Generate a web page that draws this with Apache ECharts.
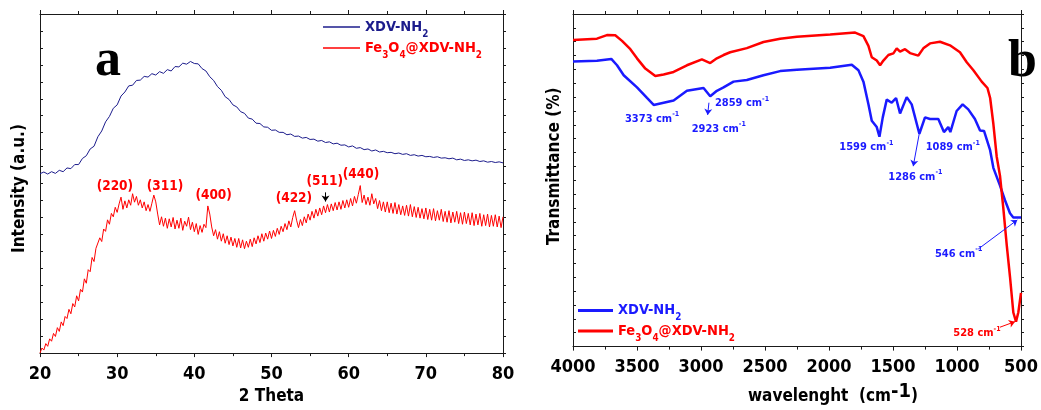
<!DOCTYPE html>
<html>
<head>
<meta charset="utf-8">
<script src="https://cdn.jsdelivr.net/npm/echarts@6/dist/echarts.min.js"></script>
<style>
  html, body { margin: 0; padding: 0; background: #fff; }
  #chart { width: 1041px; height: 410px; }
</style>
</head>
<body>
<div id="chart"></div>
<script>
// XRD (panel a), [2theta, intensity a.u.]
const xdvXrd = [
  [20,52.9],[20.5,53.4],[21,52.8],[21.5,53.5],[22,53.0],[22.5,53.9],[23,53.5],[23.5,54.6],[24,54.4],[24.5,55.6],
  [25,55.6],[25.5,57.4],[26,58.2],[26.5,60.2],[27,61.0],[27.5,63.8],[28,65.5],[28.5,68.2],[29,69.8],[29.5,72.2],
  [30,73.2],[30.5,75.8],[31,77.0],[31.5,78.8],[32,79.0],[32.5,80.4],[33,80.5],[33.5,81.6],[34,81.4],[34.5,82.4],
  [35,82.0],[35.5,83.0],[36,82.5],[36.5,83.6],[37,83.2],[37.5,84.5],[38,84.4],[38.5,85.5],[39,85.2],[39.5,86.0],
  [40,85.4],[40.5,85.3],[41,83.9],[41.5,83.2],[42,81.5],[42.5,80.4],[43,78.6],[43.5,77.5],[44,75.6],[44.5,74.8],
  [45,73.2],[45.5,72.6],[46,71.2],[46.5,70.7],[47,69.3],[47.5,69.0],[48,67.8],[48.5,67.7],[49,66.7],[49.5,66.6],
  [50,65.7],[50.5,65.8],[51,65.1],[51.5,65.1],[52,64.4],[52.5,64.6],[53,63.9],[53.5,64.0],[54,63.4],[54.5,63.6],
  [55,63.0],[55.5,63.1],[56,62.5],[56.5,62.7],[57,62.1],[57.5,62.3],[58,61.7],[58.5,61.9],[59,61.3],[59.5,61.4],
  [60,60.8],[60.5,61.1],[61,60.4],[61.5,60.6],[62,60.0],[62.5,60.2],[63,59.6],[63.5,59.9],[64,59.3],[64.5,59.5],
  [65,59.1],[65.5,59.2],[66,58.8],[66.5,59.0],[67,58.6],[67.5,58.8],[68,58.3],[68.5,58.5],[69,58.1],[69.5,58.3],
  [70,57.9],[70.5,58.0],[71,57.7],[71.5,57.9],[72,57.5],[72.5,57.6],[73,57.3],[73.5,57.5],[74,57.0],[74.5,57.2],
  [75,56.8],[75.5,57.0],[76,56.7],[76.5,56.9],[77,56.5],[77.5,56.7],[78,56.3],[78.5,56.5],[79,56.2],[79.5,56.4],
  [80,56.1]
];
// Fe3O4@XDV-NH2, one reading every 0.25 degree from 20 to 80
const fe3o4Start = 20, fe3o4Step = 0.25;
const fe3o4Xrd = [
  0.0,1.5,0.9,2.8,2.0,4.2,3.5,5.8,4.9,7.5,6.4,9.2,8.1,10.8,10.2,12.9,11.6,14.6,13.6,16.9,
  15.4,18.8,18.0,21.9,20.6,24.6,24.0,28.2,27.0,30.9,30.4,34.0,32.9,36.6,35.9,39.3,38.0,41.2,40.2,43.0,
  41.5,44.0,46.0,42.4,44.9,42.8,45.2,43.6,47.0,44.5,46.2,43.6,45.2,42.8,44.6,42.0,43.8,41.8,44.2,46.6,
  44.6,41.0,37.8,40.2,37.4,39.8,36.8,39.6,37.2,40.0,36.6,39.2,36.8,39.8,36.2,38.9,37.4,40.1,36.4,38.6,
  35.8,38.2,35.0,37.6,35.6,38.0,37.0,43.4,41.0,37.2,34.6,36.4,33.6,35.8,33.0,35.2,32.4,34.6,32.0,34.2,
  31.6,33.8,31.2,33.8,31.0,33.4,30.8,33.0,31.2,33.6,31.4,34.0,32.2,34.6,32.6,35.2,33.0,35.4,33.6,36.0,
  33.8,36.2,34.4,36.8,35.0,37.4,35.8,38.2,36.4,39.0,37.2,40.0,42.0,39.2,37.0,39.4,37.6,40.2,38.4,41.0,
  39.2,41.8,39.8,42.4,40.4,42.8,40.8,43.4,41.4,43.8,41.6,44.0,42.0,44.4,42.2,44.6,42.4,45.0,42.8,45.2,
  43.0,45.6,43.4,46.2,44.2,46.8,49.4,44.4,46.6,43.8,46.0,43.6,47.0,44.0,45.6,42.6,45.0,42.0,44.6,41.6,
  44.6,41.4,44.2,41.2,44.4,41.0,43.8,40.8,43.4,40.6,43.6,40.4,43.8,40.2,43.2,40.0,43.0,39.8,42.6,39.6,
  42.8,39.4,42.4,39.2,42.6,39.0,42.0,39.2,42.4,38.8,41.8,38.6,42.0,38.4,41.6,38.6,41.8,38.2,41.4,38.0,
  41.6,38.2,41.2,37.8,41.4,37.6,41.0,37.8,41.2,37.4,40.8,37.6,41.0,37.2,40.6,37.4,40.8,37.2,40.4,37.0,
  40.2
];

// FTIR (panel b), [wavenumber, transmittance a.u.]
const xdvIr = [
  [4000,102.9],[3813,103.1],[3701,103.8],[3656,101.5],[3604,97.9],[3500,93.5],[3422,89.7],[3370,87.2],[3292,88.0],
  [3214,88.8],[3110,92.3],[2980,93.3],[2928,90.3],[2876,92.3],[2824,93.5],[2746,95.6],[2642,96.2],[2512,97.9],
  [2382,99.4],[2251,99.9],[1991,100.6],[1822,101.7],[1770,99.7],[1731,95.6],[1692,87.4],[1666,81.5],[1627,79.2],
  [1606,75.7],[1580,82.7],[1549,89.1],[1510,88.0],[1476,89.7],[1445,84.1],[1393,90.0],[1354,87.4],[1294,76.8],
  [1250,82.7],[1211,82.1],[1146,82.1],[1102,77.4],[1068,79.2],[1052,77.4],[1003,85.0],[956,87.4],[912,85.6],
  [860,82.1],[820,78.0],[789,77.8],[742,71.0],[716,64.5],[664,58.1],[625,52.8],[586,48.1],[560,46.6],[500,46.6]
];
const fe3o4Ir = [
  [4000,110.6],[3813,111.1],[3735,112.4],[3670,112.3],[3617,110.3],[3552,107.3],[3500,104.0],[3435,100.3],
  [3357,97.6],[3292,98.2],[3214,99.1],[3110,101.5],[2993,103.6],[2928,102.3],[2876,104.0],[2824,105.2],
  [2772,106.2],[2642,107.7],[2512,109.9],[2382,111.1],[2251,111.8],[1991,112.6],[1796,113.3],[1731,112.0],
  [1692,108.5],[1666,104.4],[1627,103.2],[1601,101.5],[1575,103.2],[1536,105.2],[1497,105.8],[1471,107.6],
  [1445,106.4],[1406,107.3],[1367,105.9],[1302,105.0],[1263,107.6],[1211,109.4],[1133,110.0],[1055,108.7],
  [977,106.2],[924,102.6],[872,99.7],[807,95.6],[762,93.3],[741,89.7],[716,80.4],[690,68.6],[664,61.6],
  [638,49.9],[612,36.9],[586,25.2],[560,12.3],[539,9.0],[521,12.3],[500,19.4]
];

// annotations, in data units
const xrdPeakLabels = [['(220)',29.7,49.1],['(311)',36.2,49.1],['(400)',42.5,46.5],['(422)',52.9,45.6],['(511)',56.9,50.6],['(440)',61.6,52.6]];
const irBlueLabels = [['3373',3594,82.1],['2923',3073,78.6],['2859',2891,87.7],['1599',1920,71.8],['1089',1245,71.8],['1286',1537,61.2],['546',1172,33.4]];
const irRedLabels = [['528',1029,4.7]];
const irBlueArrows = [[[2938,88.0],[2948,83.6]],[[1295,76.8],[1342,65.1]],[[834,35.2],[529,45.7]]];
const irRedArrows = [[[664,7.0],[547,9.0]]];
const xrdArrows = [[[57,47.4],[57,44.7]]];

const FONT = "'DejaVu Sans Condensed', 'DejaVu Sans', sans-serif";
const NAVY = '#1c1c8c', RED = '#ff0000', BLUE = '#1a1aff', INK = '#1a1a1a';

function subRich(color, size) {
  return {
    n: { color: color, fontSize: size, fontWeight: 'bold', fontFamily: FONT, lineHeight: 24 },
    s: { color: color, fontSize: size * 0.68, fontWeight: 'bold', fontFamily: FONT, lineHeight: 6, verticalAlign: 'bottom' }
  };
}
const legendNames = {
  xrd1: '{a|XDV-NH}{as|2}', xrd2: '{b|Fe}{bs|3}{b|O}{bs|4}{b|@XDV-NH}{bs|2}',
  ir1: '{c|XDV-NH}{cs|2}', ir2: '{b|Fe}{bs|3}{b|O}{bs|4}{b|@XDV-NH}{bs|2}'
};
const r1 = subRich(NAVY, 14.5), r2 = subRich(RED, 14.5), r3 = subRich(BLUE, 14.5);
const legendRich = { a: r1.n, as: r1.s, b: r2.n, bs: r2.s, c: r3.n, cs: r3.s };

function xAx(grid, min, max, interval, pos, labels, extra) {
  return Object.assign({
    type: 'value', gridIndex: grid, min: min, max: max, interval: interval, position: pos,
    axisLine: { show: true, onZero: false, lineStyle: { color: INK, width: 1 } },
    axisTick: { show: true, inside: false, length: 4, lineStyle: { color: INK } },
    minorTick: { show: true, splitNumber: 2, length: 3, lineStyle: { color: INK } },
    splitLine: { show: false },
    axisLabel: { show: labels, color: '#000', fontSize: 18, fontWeight: 'bold', fontFamily: FONT, margin: 12, formatter: v => String(v) }
  }, extra || {});
}
function yAx(grid, max, pos, inside, extra) {
  return Object.assign({
    type: 'value', gridIndex: grid, min: 0, max: max, interval: 5, position: pos,
    axisLine: { show: true, onZero: false, lineStyle: { color: INK, width: 1 } },
    axisTick: { show: true, inside: inside, length: 3, lineStyle: { color: INK } },
    splitLine: { show: false },
    axisLabel: { show: false }
  }, extra || {});
}

const chart = echarts.init(document.getElementById('chart'));
chart.setOption({
  animation: false,
  backgroundColor: '#fff',
  grid: [
    { left: 40, top: 14, width: 463, height: 342 },
    { left: 573, top: 14, width: 448, height: 341 }
  ],
  xAxis: [
    xAx(0, 20, 80, 10, 'bottom', true, {
      name: '2 Theta', nameLocation: 'middle', nameGap: 33,
      nameTextStyle: { color: '#000', fontSize: 17, fontWeight: 'bold', fontFamily: FONT }
    }),
    xAx(0, 20, 80, 10, 'top', false),
    xAx(1, 500, 4000, 500, 'bottom', true, {
      inverse: true, name: '{a|wavelenght  (cm}{p|-1}{a|)}', nameLocation: 'middle', nameGap: 30,
      nameTextStyle: {
        padding: [0, 0, 0, 72],
        rich: {
          a: { color: '#000', fontSize: 17, fontWeight: 'bold', fontFamily: FONT, lineHeight: 30 },
          p: { color: '#000', fontSize: 20, fontWeight: 'bold', fontFamily: FONT, lineHeight: 8, verticalAlign: 'top' }
        }
      }
    }),
    xAx(1, 500, 4000, 500, 'top', false, { inverse: true })
  ],
  yAxis: [
    yAx(0, 100, 'left', true, {
      name: 'Intensity (a.u.)', nameLocation: 'middle', nameGap: 12, nameRotate: 90,
      nameTextStyle: { color: '#000', fontSize: 17, fontWeight: 'bold', fontFamily: FONT, verticalAlign: 'bottom', padding: [0, 10, 0, 0] }
    }),
    yAx(0, 100, 'right', false),
    yAx(1, 120, 'left', true, {
      name: 'Transmittance (%)', nameLocation: 'middle', nameGap: 10, nameRotate: 90,
      nameTextStyle: { color: '#000', fontSize: 17, fontWeight: 'bold', fontFamily: FONT, verticalAlign: 'bottom', padding: [0, 0, 0, 28] }
    }),
    yAx(1, 120, 'right', false)
  ],
  legend: [
    {
      data: ['xrd1', 'xrd2'], orient: 'vertical', left: 323, top: 19.5, padding: 0, itemGap: 1.5,
      icon: 'rect', itemWidth: 37, itemHeight: 1.4,
      formatter: n => legendNames[n], textStyle: { rich: legendRich }
    },
    {
      data: ['ir1', 'ir2'], orient: 'vertical', left: 578, top: 303, padding: 0, itemGap: 1,
      icon: 'rect', itemWidth: 35, itemHeight: 3,
      formatter: n => legendNames[n], textStyle: { rich: legendRich }
    }
  ],
  series: [
    {
      name: 'xrd1', type: 'line', xAxisIndex: 0, yAxisIndex: 0, data: xdvXrd, showSymbol: false, symbol: 'none',
      lineStyle: { color: NAVY, width: 1 }, itemStyle: { color: NAVY }
    },
    {
      name: 'xrd2', type: 'line', xAxisIndex: 0, yAxisIndex: 0,
      data: fe3o4Xrd.map((v, i) => [fe3o4Start + i * fe3o4Step, v]), showSymbol: false, symbol: 'none',
      lineStyle: { color: RED, width: 1 }, itemStyle: { color: RED },
      markLine: {
        silent: true, symbol: ['none', 'arrow'], symbolSize: 6, label: { show: false },
        lineStyle: { color: '#000', width: 1, type: 'solid' },
        data: xrdArrows.map(a => [{ coord: a[0] }, { coord: a[1] }])
      }
    },
    {
      name: 'ir1', type: 'line', xAxisIndex: 2, yAxisIndex: 2, data: xdvIr, showSymbol: false, symbol: 'none',
      lineStyle: { color: BLUE, width: 2.5 }, itemStyle: { color: BLUE },
      markLine: {
        silent: true, symbol: ['none', 'arrow'], symbolSize: 6, label: { show: false },
        lineStyle: { color: BLUE, width: 1, type: 'solid' },
        data: irBlueArrows.map(a => [{ coord: a[0] }, { coord: a[1] }])
      }
    },
    {
      name: 'ir2', type: 'line', xAxisIndex: 2, yAxisIndex: 2, data: fe3o4Ir, showSymbol: false, symbol: 'none',
      lineStyle: { color: RED, width: 2.5 }, itemStyle: { color: RED },
      markLine: {
        silent: true, symbol: ['none', 'arrow'], symbolSize: 6, label: { show: false },
        lineStyle: { color: RED, width: 1, type: 'solid' },
        data: irRedArrows.map(a => [{ coord: a[0] }, { coord: a[1] }])
      }
    }
  ]
});

// text annotations placed through the axes
const graphics = [];
xrdPeakLabels.forEach(p => {
  const pt = chart.convertToPixel({ xAxisIndex: 0, yAxisIndex: 0 }, [p[1], p[2]]);
  graphics.push({
    type: 'text', x: pt[0], y: pt[1], silent: true,
    style: { text: p[0], fill: RED, fontSize: 13.5, fontWeight: 'bold', fontFamily: FONT, align: 'center', verticalAlign: 'middle' }
  });
});
function irLabel(p, color) {
  const pt = chart.convertToPixel({ xAxisIndex: 2, yAxisIndex: 2 }, [p[1], p[2]]);
  graphics.push({
    type: 'text', x: pt[0], y: pt[1], silent: true,
    style: {
      text: '{n|' + p[0] + ' cm}{s|-1}', align: 'left', verticalAlign: 'middle',
      rich: {
        n: { fill: color, fontSize: 11, fontWeight: 'bold', fontFamily: FONT, lineHeight: 16 },
        s: { fill: color, fontSize: 7, fontWeight: 'bold', fontFamily: FONT, lineHeight: 4, verticalAlign: 'top' }
      }
    }
  });
}
irBlueLabels.forEach(p => irLabel(p, BLUE));
irRedLabels.forEach(p => irLabel(p, RED));
graphics.push({
  type: 'text', x: 95, y: 62, silent: true,
  style: { text: 'a', fill: '#000', fontSize: 52, fontWeight: 'bold', fontFamily: "'Liberation Serif', serif", verticalAlign: 'middle' }
});
graphics.push({
  type: 'text', x: 1008, y: 63, silent: true,
  style: { text: 'b', fill: '#000', fontSize: 52, fontWeight: 'bold', fontFamily: "'Liberation Serif', serif", verticalAlign: 'middle' }
});
chart.setOption({ graphic: graphics });
</script>
</body>
</html>
